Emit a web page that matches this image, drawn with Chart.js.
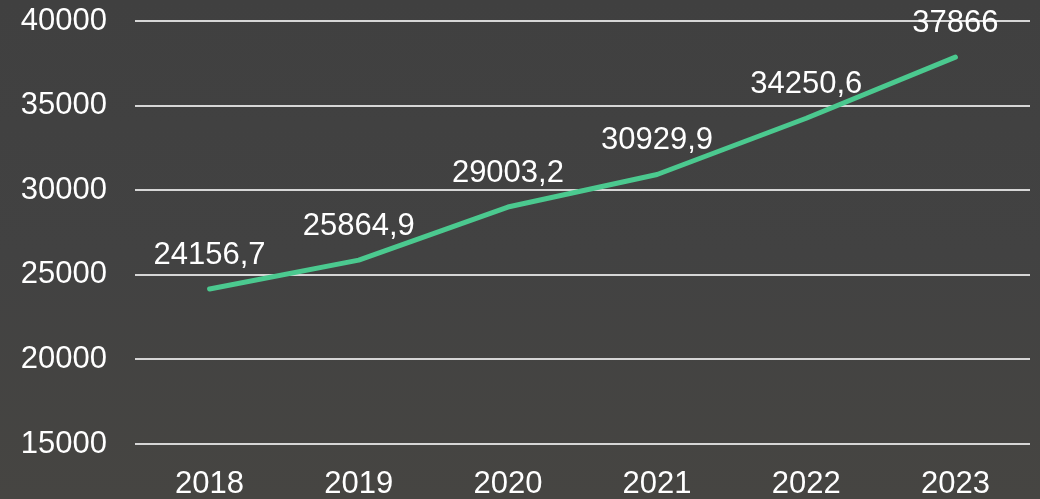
<!DOCTYPE html>
<html>
<head>
<meta charset="utf-8">
<script src="https://cdn.jsdelivr.net/npm/chart.js@4"></script>
<style>
html,body{margin:0;padding:0;}
body{width:1040px;height:499px;background:linear-gradient(180deg,#404040 0%,#424242 50%,#464542 100%);overflow:hidden;}
#wrap{position:relative;width:1040px;height:499px;}
</style>
</head>
<body>
<div id="wrap"><canvas id="c" width="1040" height="499"></canvas></div>
<script>
const categories = ['2018','2019','2020','2021','2022','2023'];
const values = [24156.7, 25864.9, 29003.2, 30929.9, 34250.6, 37866];
const yTicks = [15000, 20000, 25000, 30000, 35000, 40000];

const FONT = "'Liberation Sans', Arial, sans-serif";

const labelPlugin = {
  id: 'valueLabels',
  afterDatasetsDraw(chart) {
    const ctx = chart.ctx;
    const meta = chart.getDatasetMeta(0);
    ctx.save();
    ctx.font = '31px ' + FONT;
    ctx.fillStyle = '#ffffff';
    ctx.textAlign = 'center';
    ctx.textBaseline = 'alphabetic';
    meta.data.forEach((pt, i) => {
      const txt = String(values[i]).replace('.', ',');
      ctx.fillText(txt, pt.x, pt.y - 25);
    });
    ctx.restore();
  }
};

new Chart(document.getElementById('c'), {
  type: 'line',
  data: {
    labels: categories,
    datasets: [{
      data: values,
      borderColor: '#4BC98F',
      borderWidth: 5,
      borderCapStyle: 'round',
      borderJoinStyle: 'round',
      pointRadius: 0,
      tension: 0,
      fill: false
    }]
  },
  options: {
    responsive: false,
    animation: false,
    layout: { padding: { top: 21, right: 10, left: 0, bottom: 0 } },
    plugins: { legend: { display: false }, tooltip: { enabled: false } },
    scales: {
      x: {
        offset: true,
        grid: { display: false, drawTicks: false },
        border: { display: false },
        ticks: { color: '#ffffff', font: { family: FONT, size: 31 }, padding: 22, maxRotation: 0 },
        afterFit(s) { s.height = 55; s.paddingLeft = 0; s.paddingRight = 0; }
      },
      y: {
        min: 15000,
        max: 40000,
        afterBuildTicks(s) { s.ticks = yTicks.map(v => ({ value: v })); },
        grid: { color: '#d6d6d6', lineWidth: 2, drawTicks: false },
        border: { display: false },
        ticks: { color: '#ffffff', font: { family: FONT, size: 31 }, padding: 28, callback: v => String(v) },
        afterFit(s) { s.width = 135; s.paddingTop = 0; s.paddingBottom = 0; }
      }
    }
  },
  plugins: [labelPlugin]
});
</script>
</body>
</html>
